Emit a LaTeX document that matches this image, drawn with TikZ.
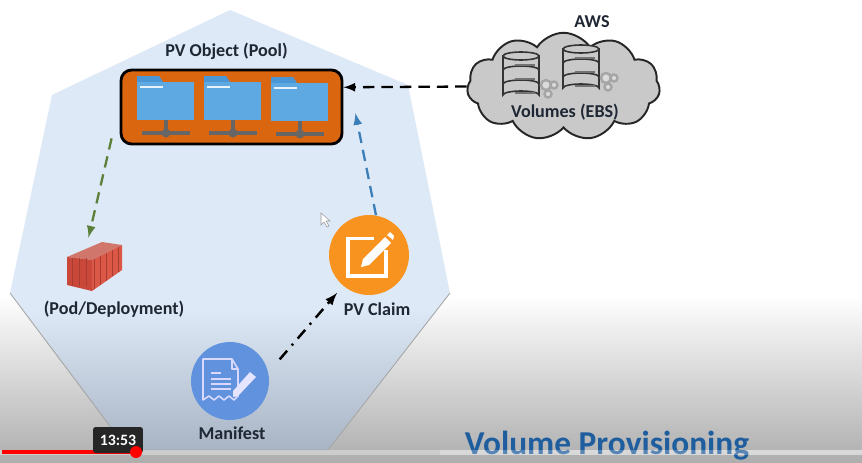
\documentclass[tikz,border=0pt]{standalone}
\usepackage{fontspec}
\setmainfont{Carlito}
\usetikzlibrary{shapes.symbols}
\definecolor{hexfill}{HTML}{DDE9F6}
\definecolor{hexlow}{HTML}{A8B4C4}
\definecolor{poolfill}{HTML}{DA660F}
\definecolor{folderfill}{HTML}{5FA9E3}
\definecolor{foldertab}{HTML}{4B97D6}
\definecolor{inktext}{HTML}{1E2733}
\definecolor{cloudfill}{HTML}{C9C9C9}
\definecolor{gearfill}{HTML}{A6A6A6}
\definecolor{titleblue}{HTML}{1F5E9E}
\definecolor{claimfill}{HTML}{F7931E}
\definecolor{manifestfill}{HTML}{6092DE}
\definecolor{podfront}{HTML}{C9483A}
\definecolor{podside}{HTML}{DB5746}
\definecolor{podtop}{HTML}{D0766A}
\definecolor{podrib}{HTML}{A83C30}
\definecolor{linkgreen}{HTML}{5C7F3A}
\definecolor{linkblue}{HTML}{3C7EB8}
\newcommand{\dbicon}[2]{
	\filldraw[fill=cloudfill,draw=black!80,line width=0.9pt] (#1,#2) -- ++(0,39) arc[x radius=18,y radius=4,start angle=180,end angle=360] -- ++(0,-39) -- cycle;
	\foreach \k in {1,2} {
		\draw[black!80,line width=0.9pt] (#1,#2+\k*14) arc[x radius=18,y radius=4,start angle=180,end angle=360];
	}
	\filldraw[fill=cloudfill,draw=black!80,line width=0.9pt] (#1+18,#2) ellipse[x radius=18,y radius=4];
	\foreach \k in {0,1,2} {
		\draw[black!55,line width=0.6pt] (#1+12,#2+\k*14+9) -- ++(20,0);
	}
	\foreach \gx/\gy/\gr in {7/29/5,15/29/3.5,9/38/3.5} {
		\draw[gearfill,line width=1.4pt,fill=white!60!gearfill] (#1+36+\gx,#2+\gy) circle[radius=\gr];
	}
}
\begin{document}
\begin{tikzpicture}[x=0.02cm,y=-0.02cm,
	text_label/.style={font=\bfseries\fontsize{10.3pt}{12pt}\selectfont,text=inktext,inner sep=0pt},
	icon_node/.style={circle,minimum size=1.56cm,inner sep=0pt},
	dashed_link/.style={-latex,line width=1.3pt,dash pattern=on 6.5pt off 4pt}]
	    \useasboundingbox (0,0) rectangle (862,463);
	    \fill[white] (0,0) rectangle (862,295);
	    \shade[top color=white,bottom color=black!32] (0,295) rectangle (862,463);

	    \begin{scope}
	        \clip (230,10) -- (408,85) -- (450,293) -- (328,450) -- (128,450) -- (10,293) -- (52,95) -- cycle;
	        \fill[hexfill] (0,0) rectangle (460,310);
	        \shade[top color=hexfill,bottom color=hexlow] (0,309) rectangle (460,451);
	    \end{scope}
	    \draw[black!35,line width=0.5pt] (450,293) -- (328,450) -- (128,450) -- (10,293);

	    \node[draw=black,line width=1.6pt,fill=poolfill,rounded corners=6pt,minimum width=4.42cm,minimum height=1.48cm,inner sep=0pt] (pool) at (231.5,107) {};
	    \foreach \fx/\fy in {137/76,204/76,271/77} {
	        \fill[foldertab] (\fx,\fy) -- ++(22,0) -- ++(4,6) -- ++(-26,0) -- cycle;
	        \fill[folderfill] (\fx,\fy+6) rectangle ++(57,38);
	        \draw[white!85!folderfill,line width=0.8pt] (\fx+3,\fy+11) -- ++(23,0);
	        \fill[black!60] (\fx+27,\fy+44) rectangle ++(4,13);
	        \fill[black!60] (\fx+5,\fy+55) rectangle ++(48,4);
	        \fill[black!60] (\fx+29,\fy+57) circle[radius=4.5];
	    }
	    \node[text_label] (pooltitle) at (226.5,51) {PV Object (Pool)};

	    \node[cloud,cloud puffs=11,cloud puff arc=115,aspect=1.8,draw=black!85,line width=1.1pt,fill=cloudfill,minimum width=3.86cm,minimum height=2.15cm,inner sep=0pt] (ebs) at (563.5,86.5) {};
	    \dbicon{503}{56}
	    \dbicon{563}{49}
	    \node[text_label] (ebstitle) at (565,112) {Volumes (EBS)};
	    \node[text_label] (aws) at (592,22) {AWS};

	    \node[minimum width=1.1cm,minimum height=0.98cm,inner sep=0pt] (pod) at (94.5,266.5) {};
	    \fill[podtop] (67,257) -- (102,242) -- (122,245) -- (92,260) -- cycle;
	    \fill[podfront] (67,257) -- (92,260) -- (92,291) -- (67,285) -- cycle;
	    \fill[podside] (92,260) -- (122,245) -- (122,270) -- (92,291) -- cycle;
	    \foreach \rx in {0,2,...,8} {
	        \draw[podrib,line width=0.4pt] (94+\rx*3,259-\rx*1.5) -- (94+\rx*3,289-\rx*2.1);
	    }
	    \foreach \rx in {72,79,86} {
	        \draw[podrib,line width=0.4pt] (\rx,258) -- (\rx,286);
	    }
	    \node[text_label] (podtitle) at (114,309) {(Pod/Deployment)};

	    \node[icon_node,minimum size=1.6cm,fill=claimfill] (claim) at (369,255) {};
	    \draw[white,line width=2.2pt] (374,238.5) -- (348,238.5) -- (348,276) -- (386,276) -- (386,250);
	    \fill[white] (361,267) -- (363,259) -- (385,237) -- (391,243) -- (369,265) -- cycle;
	    \fill[white] (387,235) -- (390,232) -- (394,236) -- (393,240) -- cycle;
	    \node[text_label] (claimtitle) at (377,309) {PV Claim};

	    \node[icon_node,fill=manifestfill] (manifest) at (230,381) {};
	    \draw[white!85!blue,line width=0.9pt,line join=round] (238,369) -- (232,359) -- (203,359) -- (203,400) -- (209,396) -- (214,400) -- (219,396) -- (224,400) -- (229,396) -- (234,400) -- (238,396) -- (238,369) -- (232,369) -- (232,359);
	    \foreach \ly/\lw in {373/10,379/20,384/20,389/20} {
	        \draw[white!85!blue,line width=0.7pt] (211,\ly) -- ++(\lw,0);
	    }
	    \fill[white!90!blue] (233,391) -- (250,372) -- (256,377) -- (238,396) -- (233,397) -- cycle;
	    \node[text_label] (manifesttitle) at (232,433) {Manifest};

	    \draw[dashed_link,black] (ebs.west) -- (pool.10);
	    \draw[dashed_link,linkgreen] ([shift={(-8,-7)}]pool.south west) -- ([shift={(-6,-4)}]pod.north);
	    \draw[dashed_link,linkblue] (claim.80) -- ([shift={(12,6)}]pool.east);
	    \draw[-latex,black,line width=1.4pt,dash pattern=on 6.5pt off 4pt on 1.2pt off 4pt] ([shift={(14,-5)}]manifest.25) -- ([shift={(-6,7)}]claim.230);

	    \filldraw[fill=white,draw=black!40,line width=0.3pt] (321,213) -- (321,225) -- (324,222) -- (327,227) -- (329,226) -- (326,221) -- (330,221) -- cycle;

	    \fill[white,opacity=0.35] (0,450) rectangle (862,455);
	    \fill[white!80!black] (136,450) rectangle (147,455);
	    \node[text_label,font=\bfseries\fontsize{19pt}{22pt}\selectfont,text=titleblue] (title) at (607,446) {Volume Provisioning};
	    \fill[white,opacity=0.25] (440,450) rectangle (862,455);
	    \draw[red,line width=2.4pt] (2,452) -- (136,452);
	    \node[fill=black!85,rounded corners=1.5pt,minimum width=1cm,minimum height=0.52cm,inner sep=0pt,text=white,font=\bfseries\fontsize{9pt}{10pt}\selectfont] (time) at (118,440) {13:53};
	    \fill[red] (136,452) circle[radius=6];
    \end{tikzpicture}
\end{document}
